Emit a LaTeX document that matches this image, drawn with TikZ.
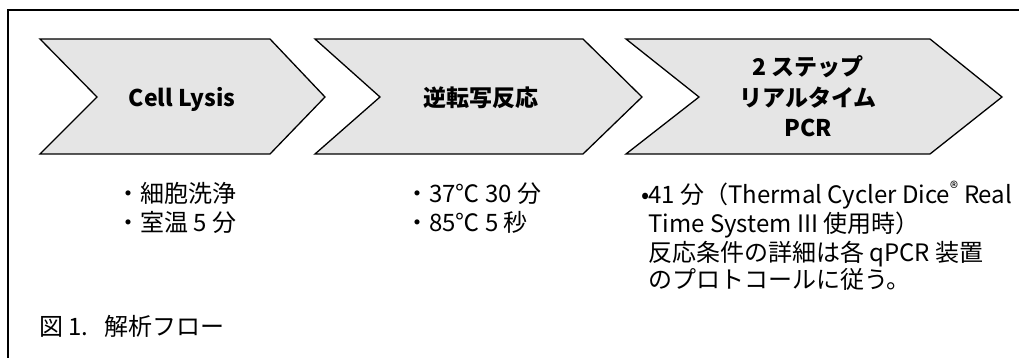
\documentclass[tikz,border=0pt]{standalone}
\usepackage{fontspec}
\setmainfont{Noto Sans CJK JP}
\begin{document}
\begin{tikzpicture}[x=1pt,y=-1pt,
  chev/.style={draw=black,fill=black!10,line width=1.3pt,line join=miter},
  title/.style={font=\fontsize{23}{28}\selectfont\bfseries,inner sep=0pt,anchor=base},
  body/.style={font=\fontsize{24}{28}\selectfont,inner sep=0pt,anchor=base west}]
\useasboundingbox (0,0) rectangle (1019,358);
\draw[line width=2pt] (8,360) -- (8,10) -- (1021,10);
% chevrons
\draw[chev] (40,39) -- (270,39) -- (325,97) -- (270,154) -- (40,154) -- (97,97) -- cycle;
\draw[chev] (315,39) -- (583,39) -- (642,97) -- (583,154) -- (315,154) -- (380,97) -- cycle;
\draw[chev] (626,39) -- (930,39) -- (1002,97) -- (930,154) -- (626,154) -- (699,97) -- cycle;
% titles
\node[title] (t1) at (182,107) {Cell Lysis};
\node[title] (t2) at (481,107) {逆転写反応};
\node[title] (t3a) at (808,76) {2 ステップ};
\node[title] (t3b) at (808,107) {リアルタイム};
\node[title] (t3c) at (808,137) {PCR};
% column 1
\node[body] (a1) at (116,202) {・細胞洗浄};
\node[body] (a2) at (116,231) {・室温 5 分};
% column 2
\node[body] (b1) at (405,202) {・37℃ 30 分};
\node[body] (b2) at (405,231) {・85℃ 5 秒};
% column 3
\node[body,anchor=base east] (c0) at (650,204) {•};
\node[body] (c1) at (648,204) {41 分（Thermal Cycler Dice\textsuperscript{®} Real};
\node[body] (c2) at (648,232) {Time System III 使用時）};
\node[body] (c3) at (648,261) {反応条件の詳細は各 qPCR 装置};
\node[body] (c4) at (648,288) {のプロトコールに従う。};
% caption
\node[body] (cap) at (39,335) {図 1.\ \ \ 解析フロー};
\end{tikzpicture}
\end{document}
